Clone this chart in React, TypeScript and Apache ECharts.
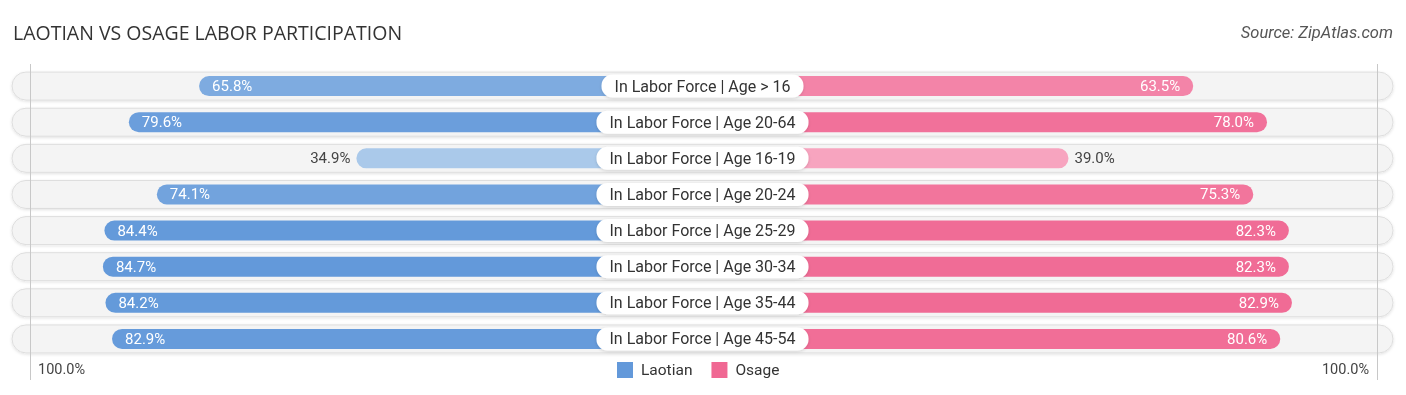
import React, { useEffect, useRef } from "react";
import * as echarts from "echarts";

const categories = [
  "In Labor Force | Age > 16",
  "In Labor Force | Age 20-64",
  "In Labor Force | Age 16-19",
  "In Labor Force | Age 20-24",
  "In Labor Force | Age 25-29",
  "In Labor Force | Age 30-34",
  "In Labor Force | Age 35-44",
  "In Labor Force | Age 45-54",
];
const laotian = [65.8, 79.6, 34.9, 74.1, 84.4, 84.7, 84.2, 82.9];
const osage = [63.5, 78.0, 39.0, 75.3, 82.3, 82.3, 82.9, 80.6];
const seriesNames = ["Laotian", "Osage"];
const endTickLabels = ["100.0%", "100.0%"];
const titleText = "LAOTIAN VS OSAGE LABOR PARTICIPATION";
const sourceText = "Source: ZipAtlas.com";

const AXIS_MAX = 100;
const AXIS_OFFSET = -33; // hidden part of each half, under the centre label
const FONT = "Roboto, 'Noto Sans', sans-serif";

const BLUE_LIGHT = [170, 201, 234];
const BLUE_DARK = [99, 153, 218];
const PINK_LIGHT = [248, 169, 195];
const PINK_DARK = [240, 104, 147];

function mix(a: number[], b: number[], v: number) {
  let t = (v - 35) / 50;
  t = Math.max(0, Math.min(1, t));
  const c = a.map((x, i) => Math.round(x + (b[i] - x) * t));
  return `rgb(${c[0]},${c[1]},${c[2]})`;
}

function makeBarRender(side: "left" | "right") {
  return (params: any, api: any) => {
    const v = api.value(0);
    const idx = api.value(1);
    const start = api.coord([AXIS_OFFSET, idx]);
    const end = api.coord([v, idx]);
    const h = 20;
    const y = end[1] - h / 2;
    const color =
      side === "left" ? mix(BLUE_LIGHT, BLUE_DARK, v) : mix(PINK_LIGHT, PINK_DARK, v);
    const inside = v >= 50;
    const x0 = Math.min(start[0], end[0]);
    const w = Math.abs(end[0] - start[0]);
    const label = v.toFixed(1) + "%";
    let tx: number;
    let align: string;
    if (side === "left") {
      tx = inside ? end[0] + 13 : end[0] - 6;
      align = inside ? "left" : "right";
    } else {
      tx = inside ? end[0] - 13 : end[0] + 6;
      align = inside ? "right" : "left";
    }
    return {
      type: "group",
      children: [
        {
          type: "rect",
          shape: {
            x: x0,
            y,
            width: w,
            height: h,
            r: side === "left" ? [10, 0, 0, 10] : [0, 10, 10, 0],
          },
          style: { fill: color },
        },
        {
          type: "text",
          x: tx,
          y: end[1],
          style: {
            text: label,
            fill: inside ? "#ffffff" : "#444444",
            font: `15px ${FONT}`,
            align,
            verticalAlign: "middle",
          },
        },
      ],
    };
  };
}

function bgRender(params: any, api: any) {
  const idx = api.value(1);
  const cs = params.coordSys;
  const p = api.coord([0, idx]);
  const h = 28;
  return {
    type: "rect",
    shape: { x: cs.x, y: p[1] - h / 2, width: cs.width, height: h, r: h / 2 },
    style: {
      fill: "#f4f4f4",
      stroke: "#dedede",
      lineWidth: 1,
      shadowBlur: 3,
      shadowColor: "rgba(0,0,0,0.12)",
      shadowOffsetY: 1,
    },
  };
}

function labelRender(params: any, api: any) {
  const idx = api.value(1);
  const cs = params.coordSys;
  const p = api.coord([0, idx]);
  return {
    type: "text",
    x: cs.x + cs.width / 2,
    y: p[1],
    style: {
      text: categories[idx],
      fill: "#333333",
      font: `16px ${FONT}`,
      align: "center",
      verticalAlign: "middle",
      backgroundColor: "#ffffff",
      padding: [3, 13, 2, 13],
      borderRadius: 11,
      lineHeight: 18,
      shadowBlur: 3,
      shadowColor: "rgba(0,0,0,0.15)",
      shadowOffsetY: 1,
    },
  };
}

export default function App() {
  const ref = useRef<HTMLDivElement>(null);
  useEffect(() => {
    if (!ref.current) return;
    const chart = echarts.init(ref.current, undefined, { renderer: "svg" });
    const top = 68;
    const height = 289;
    const yAxisBase = {
      type: "category" as const,
      data: categories,
      inverse: true,
      show: false,
    };
    chart.setOption({
      animation: false,
      grid: [
        { left: 12, width: 1381, top, height },
        { left: 25, width: 677, top, height },
        { left: 702, width: 677, top, height },
      ],
      xAxis: [
        { gridIndex: 0, type: "value", min: 0, max: 1, show: false },
        { gridIndex: 1, type: "value", min: AXIS_OFFSET, max: AXIS_MAX, inverse: true, show: false },
        { gridIndex: 2, type: "value", min: AXIS_OFFSET, max: AXIS_MAX, show: false },
      ],
      yAxis: [
        { ...yAxisBase, gridIndex: 0 },
        { ...yAxisBase, gridIndex: 1 },
        { ...yAxisBase, gridIndex: 2 },
      ],
      legend: {
        data: [
          { name: seriesNames[0], itemStyle: { color: "rgb(99,153,218)" } },
          { name: seriesNames[1], itemStyle: { color: "rgb(240,104,147)" } },
        ],
        left: 612,
        top: 357,
        icon: "rect",
        itemWidth: 16,
        itemHeight: 16,
        itemGap: 19,
        textStyle: {
          fontFamily: FONT,
          fontSize: 15.5,
          color: "#333",
          padding: [0, 0, 0, 3],
        },
      },
      graphic: [
        {
          type: "text",
          left: 13,
          top: 22,
          style: { text: titleText, font: `19.5px 'Open Sans', sans-serif`, fill: "#333" },
        },
        {
          type: "text",
          right: 13,
          top: 24,
          style: { text: sourceText, font: `italic 16.5px ${FONT}`, fill: "#555" },
        },
        {
          type: "line",
          z: 5,
          shape: { x1: 30.5, y1: 64, x2: 30.5, y2: 380 },
          style: { stroke: "#c8c8c8", lineWidth: 1 },
        },
        {
          type: "line",
          z: 5,
          shape: { x1: 1377.5, y1: 64, x2: 1377.5, y2: 380 },
          style: { stroke: "#c8c8c8", lineWidth: 1 },
        },
        {
          type: "text",
          left: 38,
          top: 362,
          style: { text: endTickLabels[0], font: `14.5px ${FONT}`, fill: "#444" },
        },
        {
          type: "text",
          right: 1406 - 1369,
          top: 362,
          style: { text: endTickLabels[1], font: `14.5px ${FONT}`, fill: "#444" },
        },
      ],
      series: [
        {
          type: "custom",
          name: "bg",
          xAxisIndex: 0,
          yAxisIndex: 0,
          z: 1,
          renderItem: bgRender,
          data: categories.map((_, i) => [0, i]),
          encode: { x: 0, y: 1 },
          silent: true,
        },
        {
          type: "custom",
          name: seriesNames[0],
          xAxisIndex: 1,
          yAxisIndex: 1,
          z: 3,
          itemStyle: { color: "rgb(99,153,218)" },
          renderItem: makeBarRender("left"),
          data: laotian.map((v, i) => [v, i]),
          encode: { x: 0, y: 1 },
        },
        {
          type: "custom",
          name: seriesNames[1],
          xAxisIndex: 2,
          yAxisIndex: 2,
          z: 3,
          itemStyle: { color: "rgb(240,104,147)" },
          renderItem: makeBarRender("right"),
          data: osage.map((v, i) => [v, i]),
          encode: { x: 0, y: 1 },
        },
        {
          type: "custom",
          name: "labels",
          xAxisIndex: 0,
          yAxisIndex: 0,
          z: 6,
          renderItem: labelRender,
          data: categories.map((_, i) => [0, i]),
          encode: { x: 0, y: 1 },
          silent: true,
        },
      ],
    });
    return () => chart.dispose();
  }, []);
  return (
    <div
      ref={ref}
      style={{ position: "fixed", left: 0, top: 0, width: 1406, height: 395 }}
    />
  );
}
